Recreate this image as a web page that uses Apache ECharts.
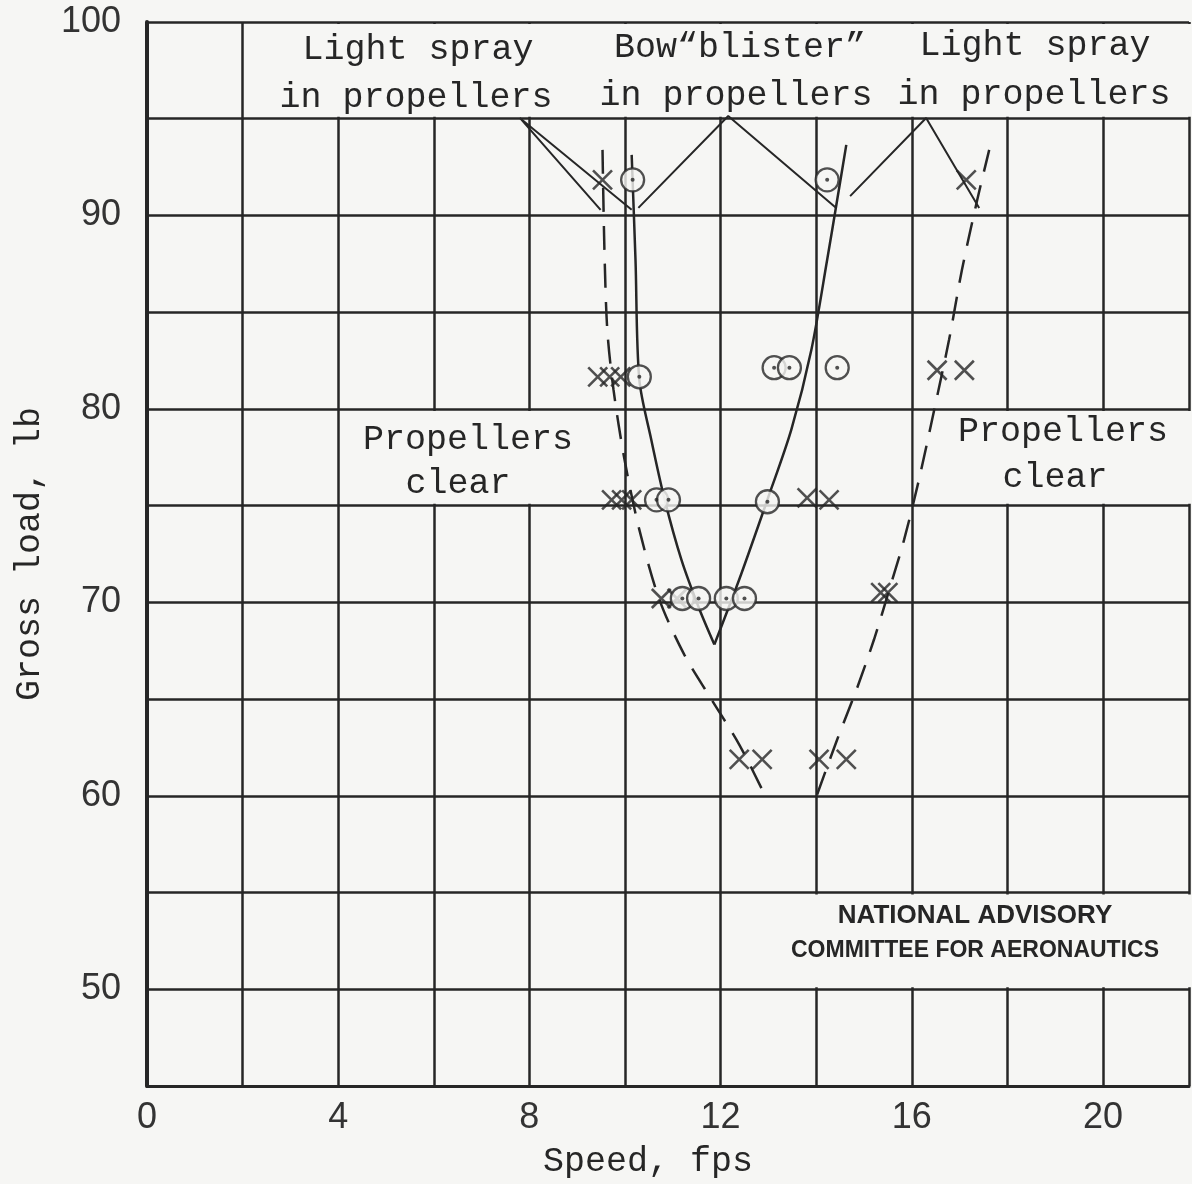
<!DOCTYPE html>
<html>
<head>
<meta charset="utf-8">
<script src="https://cdn.jsdelivr.net/npm/echarts@6/dist/echarts.min.js"></script>
<style>
html,body{margin:0;padding:0;background:#f6f6f4;}
#chart{width:1192px;height:1184px;}
</style>
</head>
<body>
<div id="chart"></div>
<script>
// readings: speed (fps), gross load (lb)
var crossPoints = [
  [9.53, 91.84], [17.14, 91.84],
  [9.43, 81.66], [9.68, 81.66], [9.91, 81.66], [16.53, 82.0], [17.10, 82.0],
  [9.72, 75.3], [9.93, 75.3], [10.14, 75.3], [13.81, 75.4], [14.27, 75.3],
  [10.76, 70.2], [11.09, 70.2], [15.35, 70.5], [15.50, 70.5],
  [12.39, 61.88], [12.87, 61.88], [14.06, 61.88], [14.63, 61.88]
];
var circlePoints = [
  [10.16, 91.84], [14.23, 91.84],
  [10.30, 81.66], [13.12, 82.13], [13.44, 82.13], [14.44, 82.13],
  [10.66, 75.3], [10.91, 75.3], [12.98, 75.2],
  [11.20, 70.2], [11.54, 70.2], [12.12, 70.2], [12.50, 70.2]
];
// solid boundary (bow blister)
var blisterLeft = [[10.14, 93.13], [10.22, 87.71], [10.30, 81.51], [10.55, 78.41], [10.83, 75.31], [11.18, 72.21], [11.56, 69.63], [11.87, 67.82]];
var blisterRight = [[11.87, 67.82], [12.39, 71.18], [12.98, 75.31], [13.48, 78.93], [13.90, 83.06], [14.23, 87.71], [14.44, 90.81], [14.63, 93.65]];
// dashed boundary (light spray)
var sprayLeft = [[9.53, 93.39], [9.57, 88.22], [9.63, 84.09], [9.76, 80.99], [9.99, 77.38], [10.30, 73.76], [10.72, 70.14], [11.24, 67.30], [11.81, 64.98], [12.39, 62.65], [12.92, 60.07]];
var sprayRight = [[14.02, 60.07], [14.44, 62.91], [14.86, 65.60], [15.21, 68.08], [15.53, 70.66], [15.84, 73.24], [16.15, 76.34], [16.47, 79.96], [16.78, 83.57], [17.05, 87.19], [17.37, 90.81], [17.62, 93.39]];
// leader lines from the region labels
var pointerLeft = [[9.49, 90.29], [7.80, 95.04], [10.14, 90.29]];
var pointerMid = [[10.28, 90.39], [12.16, 95.14], [14.42, 90.39]];
var pointerRight = [[14.71, 91.0], [16.30, 95.04], [17.41, 90.39]];
// grid cells left blank behind the labels: [x0, y0, x1, y1]
var blankCells = [[2, 95, 21.8, 100], [4, 75, 10, 80], [16, 75, 21.8, 80], [12, 50, 21.8, 55]];

var ink = '#262626';
var paper = '#f6f6f4';
var mono = '"Liberation Mono", "DejaVu Sans Mono", monospace';
var sans = '"Liberation Sans", Arial, sans-serif';

function curve(data, dashed) {
  return {
    type: 'line', data: data, showSymbol: false, smooth: 0.3, silent: true,
    lineStyle: { color: ink, width: 2.5, type: dashed ? [24, 14] : 'solid' }
  };
}
function pointer(data) {
  return {
    type: 'line', data: data, showSymbol: false, silent: true,
    lineStyle: { color: ink, width: 2 }
  };
}
function label(text, x, y, size, font, weight) {
  return {
    type: 'text', x: x, y: y, silent: true, z: 10,
    style: {
      text: text, align: 'center', verticalAlign: 'middle',
      fontFamily: font || mono, fontSize: size || 35, fontWeight: weight || 'normal', fill: ink
    }
  };
}

var chart = echarts.init(document.getElementById('chart'));
var option = {
  backgroundColor: paper,
  animation: false,
  grid: { left: 147, right: 0, top: 22, bottom: 96 },
  xAxis: {
    type: 'value', min: 0, max: 21.8, interval: 2,
    name: 'Speed, fps', nameLocation: 'middle', nameGap: 58,
    nameTextStyle: { fontFamily: mono, fontSize: 35, color: ink, padding: [0, 40, 0, 0] },
    axisLine: { show: true, lineStyle: { color: ink, width: 3 } },
    axisTick: { show: false },
    axisLabel: {
      margin: 14, color: '#333', fontFamily: sans, fontSize: 36,
      formatter: function (v) { return v % 4 === 0 ? String(v) : ''; }
    },
    splitLine: { show: true, lineStyle: { color: ink, width: 2.5 } }
  },
  yAxis: {
    type: 'value', min: 45, max: 100, interval: 5,
    name: 'Gross load, lb', nameLocation: 'middle', nameGap: 100,
    nameTextStyle: { fontFamily: mono, fontSize: 35, color: ink },
    axisLine: { show: true, lineStyle: { color: ink, width: 4 } },
    axisTick: { show: false },
    axisLabel: {
      margin: 26, color: '#333', fontFamily: sans, fontSize: 36,
      formatter: function (v) { return v % 10 === 0 ? String(v) : ''; }
    },
    splitLine: { show: true, lineStyle: { color: ink, width: 2.5 } }
  },
  series: [
    curve(blisterLeft, false), curve(blisterRight, false),
    curve(sprayLeft, true), curve(sprayRight, true),
    pointer(pointerLeft), pointer(pointerMid), pointer(pointerRight),
    {
      type: 'scatter', data: crossPoints, silent: true, z: 4,
      symbol: 'path://M0,0L10,10M10,0L0,10', symbolSize: 19,
      itemStyle: { color: 'rgba(0,0,0,0)', borderColor: ink, borderWidth: 2.6 }
    },
    {
      type: 'scatter', data: circlePoints, silent: true, z: 5,
      symbol: 'circle', symbolSize: 23,
      itemStyle: { color: paper, borderColor: ink, borderWidth: 2.3 }
    },
    {
      type: 'scatter', data: circlePoints, silent: true, z: 6,
      symbol: 'circle', symbolSize: 4,
      itemStyle: { color: ink }
    }
  ]
};
chart.setOption(option);

// paper patches over the grid, placed from the axis scales
var patches = blankCells.map(function (c) {
  var p0 = chart.convertToPixel({ gridIndex: 0 }, [c[0], c[3]]);
  var p1 = chart.convertToPixel({ gridIndex: 0 }, [c[2], c[1]]);
  var inset = 2;
  return {
    type: 'rect', silent: true, z: 1,
    shape: { x: p0[0] + inset, y: p0[1] + inset, width: p1[0] - p0[0] - 2 * inset + (c[2] >= 21.8 ? 4 : 0), height: p1[1] - p0[1] - 2 * inset },
    style: { fill: paper }
  };
});

chart.setOption({
  graphic: patches.concat([
    label('Light spray', 418, 50),
    label('in propellers', 416, 98),
    label('Bow\u201cblister\u201d', 740, 48),
    label('in propellers', 736, 96),
    label('Light spray', 1035, 46),
    label('in propellers', 1034, 95),
    label('Propellers', 468, 440),
    label('clear', 458, 484),
    label('Propellers', 1063, 432),
    label('clear', 1055, 478),
    label('NATIONAL ADVISORY', 975, 916, 26, sans, 'bold'),
    label('COMMITTEE FOR AERONAUTICS', 975, 951, 23, sans, 'bold')
  ])
});
</script>
</body>
</html>
